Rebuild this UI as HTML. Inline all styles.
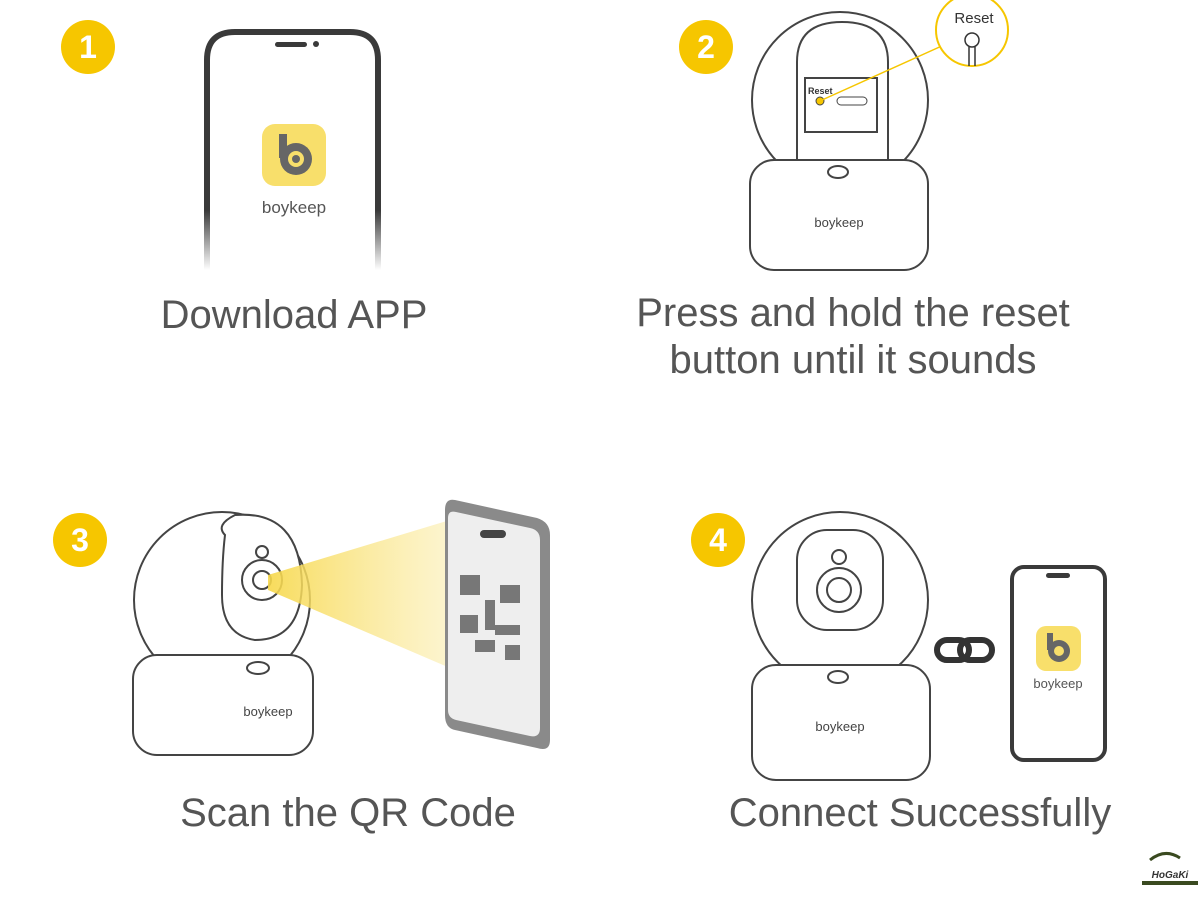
<!DOCTYPE html>
<html><head><meta charset="utf-8"><style>
body{margin:0;background:#fff;width:1200px;height:900px;overflow:hidden}
svg{display:block}
text{font-family:"Liberation Sans","DejaVu Sans",sans-serif}
</style></head><body>
<svg width="1200" height="900" viewBox="0 0 1200 900">
<defs>
<linearGradient id="fade" x1="0" y1="0" x2="0" y2="1">
<stop offset="0.75" stop-color="#3a3a3a" stop-opacity="1"/>
<stop offset="1" stop-color="#3a3a3a" stop-opacity="0"/>
</linearGradient>
<linearGradient id="beam" x1="0" y1="0" x2="1" y2="0">
<stop offset="0" stop-color="#f7d84a" stop-opacity="0.9"/>
<stop offset="1" stop-color="#fbeeb0" stop-opacity="0.6"/>
</linearGradient>
</defs>
<rect width="1200" height="900" fill="#fff"/>

<g font-weight="bold" font-size="32" fill="#fff" text-anchor="middle">
<circle cx="88" cy="47" r="27" fill="#f6c600"/><text x="88" y="58">1</text>
<circle cx="706" cy="47" r="27" fill="#f6c600"/><text x="706" y="58">2</text>
<circle cx="80" cy="540" r="27" fill="#f6c600"/><text x="80" y="551">3</text>
<circle cx="718" cy="540" r="27" fill="#f6c600"/><text x="718" y="551">4</text>
</g>

<!-- Step 1 phone -->
<path d="M207 270 V60 Q207 32 235 32 H350 Q378 32 378 60 V270" fill="none" stroke="url(#fade)" stroke-width="6"/>
<rect x="275" y="42" width="32" height="5" rx="2.5" fill="#3a3a3a"/>
<circle cx="316" cy="44" r="3" fill="#3a3a3a"/>
<rect x="262" y="124" width="64" height="62" rx="13" fill="#f8df6b"/>
<circle cx="296" cy="159" r="16" fill="#666"/><rect x="279" y="134" width="8" height="24" fill="#666"/>
<circle cx="296" cy="159" r="8" fill="#f8df6b"/><circle cx="296" cy="159" r="4" fill="#666"/>
<text x="294" y="213" font-size="17" fill="#555" text-anchor="middle">boykeep</text>
<text x="294" y="328" font-size="40" fill="#555" text-anchor="middle">Download APP</text>

<!-- Step 2 camera -->
<g fill="#fff" stroke="#444" stroke-width="2">
<circle cx="840" cy="100" r="88"/>
<path d="M797 160 V62 Q797 22 842 22 Q888 22 888 62 V160 Z"/>
<rect x="805" y="78" width="72" height="54" fill="#fff"/>
<rect x="750" y="160" width="178" height="110" rx="24"/>
<ellipse cx="838" cy="172" rx="10" ry="6"/>
</g>
<text x="808" y="94" font-size="9" font-weight="bold" fill="#333">Reset</text>
<circle cx="820" cy="101" r="4" fill="#f6c600" stroke="#444"/>
<rect x="837" y="97" width="30" height="8" rx="4" fill="none" stroke="#444"/>
<line x1="822" y1="100" x2="955" y2="40" stroke="#f6c600" stroke-width="1.5"/>
<circle cx="972" cy="30" r="36" fill="#fff" stroke="#f6c600" stroke-width="2"/>
<text x="974" y="23" font-size="15" fill="#333" text-anchor="middle">Reset</text>
<circle cx="972" cy="40" r="7" fill="none" stroke="#333" stroke-width="1.5"/>
<path d="M969 47 V66 M975 47 V66" stroke="#333" stroke-width="1.5"/>
<text x="839" y="227" font-size="13" fill="#444" text-anchor="middle">boykeep</text>
<text x="853" y="326" font-size="40" fill="#555" text-anchor="middle">Press and hold the reset</text>
<text x="853" y="373" font-size="40" fill="#555" text-anchor="middle">button until it sounds</text>

<!-- Step 3 -->
<g fill="#fff" stroke="#444" stroke-width="2">
<circle cx="222" cy="600" r="88"/>
<path d="M225 535 Q215 525 235 515 Q300 510 302 585 Q300 640 255 640 Q222 635 222 595 Q222 560 225 535 Z"/>
<circle cx="262" cy="580" r="20"/><circle cx="262" cy="580" r="9"/>
<circle cx="262" cy="552" r="6"/>
<rect x="133" y="655" width="180" height="100" rx="24"/>
<ellipse cx="258" cy="668" rx="11" ry="6"/>
</g>
<polygon points="268,575 450,520 450,668 268,590" fill="url(#beam)"/>
<text x="268" y="716" font-size="13" fill="#444" text-anchor="middle">boykeep</text>
<path d="M455 500 L537 518 Q550 522 550 535 V740 Q550 752 537 748 L455 730 Q445 728 445 715 V510 Q445 498 455 500 Z" fill="#8a8a8a"/>
<path d="M456 512 L530 528 Q540 530 540 540 V728 Q540 738 530 736 L456 720 Q448 718 448 710 V518 Q448 510 456 512 Z" fill="#fff" opacity="0.85"/>
<rect x="480" y="530" width="26" height="8" rx="4" fill="#444"/>
<g fill="#777">
<rect x="460" y="575" width="20" height="20"/><rect x="500" y="585" width="20" height="18"/>
<rect x="460" y="615" width="18" height="18"/><rect x="485" y="600" width="10" height="30"/>
<rect x="495" y="625" width="25" height="10"/><rect x="475" y="640" width="20" height="12"/><rect x="505" y="645" width="15" height="15"/>
</g>
<text x="348" y="826" font-size="40" fill="#555" text-anchor="middle">Scan the QR Code</text>

<!-- Step 4 -->
<g fill="#fff" stroke="#444" stroke-width="2">
<circle cx="840" cy="600" r="88"/>
<rect x="797" y="530" width="86" height="100" rx="30"/>
<circle cx="839" cy="590" r="22"/><circle cx="839" cy="590" r="12"/>
<circle cx="839" cy="557" r="7"/>
<rect x="752" y="665" width="178" height="115" rx="24"/>
<ellipse cx="838" cy="677" rx="10" ry="6"/>
</g>
<text x="840" y="731" font-size="13" fill="#444" text-anchor="middle">boykeep</text>
<g fill="none" stroke="#333" stroke-width="6">
<rect x="937" y="640" width="32" height="20" rx="10"/><rect x="960" y="640" width="32" height="20" rx="10"/>
</g>
<rect x="1012" y="567" width="93" height="193" rx="12" fill="#fff" stroke="#3a3a3a" stroke-width="4"/>
<rect x="1046" y="573" width="24" height="5" rx="2.5" fill="#3a3a3a"/>
<rect x="1036" y="626" width="45" height="45" rx="10" fill="#f8df6b"/>
<circle cx="1059" cy="651" r="11" fill="#666"/><rect x="1047" y="633" width="6" height="17" fill="#666"/>
<circle cx="1059" cy="651" r="5" fill="#f8df6b"/>
<text x="1058" y="688" font-size="13" fill="#555" text-anchor="middle">boykeep</text>
<text x="920" y="826" font-size="40" fill="#555" text-anchor="middle">Connect Successfully</text>

<path d="M1150 860 Q1165 848 1180 858" fill="none" stroke="#3a4a20" stroke-width="3"/>
<text x="1170" y="878" font-size="10" font-weight="bold" font-style="italic" fill="#333" text-anchor="middle">HoGaKi</text>
<rect x="1142" y="881" width="56" height="4" fill="#3a4a20"/>
</svg>
</body></html>
